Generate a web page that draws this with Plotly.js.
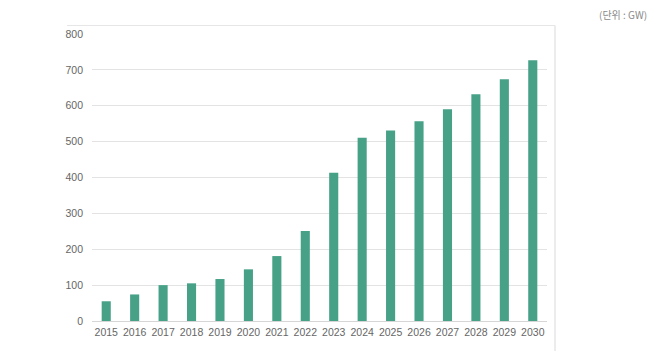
<!DOCTYPE html>
<html>
<head>
<meta charset="utf-8">
<script src="https://cdn.plot.ly/plotly-3.0.1.min.js"></script>
<style>html,body{margin:0;padding:0;background:#fff;}#chart{width:657px;height:351px;}</style>
</head>
<body>
<div id="chart"></div>
<script>
const years = ["2015","2016","2017","2018","2019","2020","2021","2022","2023","2024","2025","2026","2027","2028","2029","2030"];
const capacityGW = [55, 74, 100, 105, 117, 144, 181, 251, 413, 511, 531, 557, 590, 632, 674, 727];
const yTicks = [0, 100, 200, 300, 400, 500, 600, 700, 800];
const unitLabel = "(단위 : GW)";

const trace = {
  type: "bar",
  x: years,
  y: capacityGW,
  marker: {color: "#46a187"},
  hoverinfo: "x+y"
};

const layout = {
  width: 657,
  height: 351,
  margin: {l: 92, r: 110, t: 33.5, b: 30.3, pad: 0},
  paper_bgcolor: "#ffffff",
  plot_bgcolor: "#ffffff",
  bargap: 0.68,
  showlegend: false,
  font: {family: "Liberation Sans, Arial, sans-serif", size: 10.5, color: "#666666"},
  xaxis: {
    type: "category",
    range: [-0.5, 15.5],
    showgrid: false,
    showline: false,
    ticks: "",
    ticklabelstandoff: 3,
    tickfont: {size: 10.5, color: "#666666"},
    fixedrange: true
  },
  yaxis: {
    range: [0, 800],
    tickvals: yTicks,
    showgrid: true,
    gridcolor: "#e3e3e3",
    gridwidth: 1,
    zeroline: true,
    zerolinecolor: "#d6d6d6",
    zerolinewidth: 1,
    showline: false,
    ticks: "",
    ticklabelstandoff: 8,
    tickfont: {size: 10.5, color: "#666666"},
    fixedrange: true
  },
  shapes: [
    {type: "line", xref: "paper", yref: "paper", x0: -0.055, x1: 1.0176, y0: 1.0296, y1: 1.0296, line: {color: "#e6e6e6", width: 1.2}},
    {type: "line", xref: "paper", yref: "paper", x0: 1.0176, x1: 1.0176, y0: 1.0296, y1: -0.11, line: {color: "#e6e6e6", width: 1.5}}
  ],
  annotations: [
    {text: unitLabel, xref: "paper", yref: "paper", x: 1.225, y: 1.068, xanchor: "right", yanchor: "middle", showarrow: false,
     font: {family: "Noto Sans CJK KR, sans-serif", size: 10, color: "#8a8a8a"}}
  ]
};

Plotly.newPlot("chart", [trace], layout, {displayModeBar: false, staticPlot: true});
</script>
</body>
</html>
